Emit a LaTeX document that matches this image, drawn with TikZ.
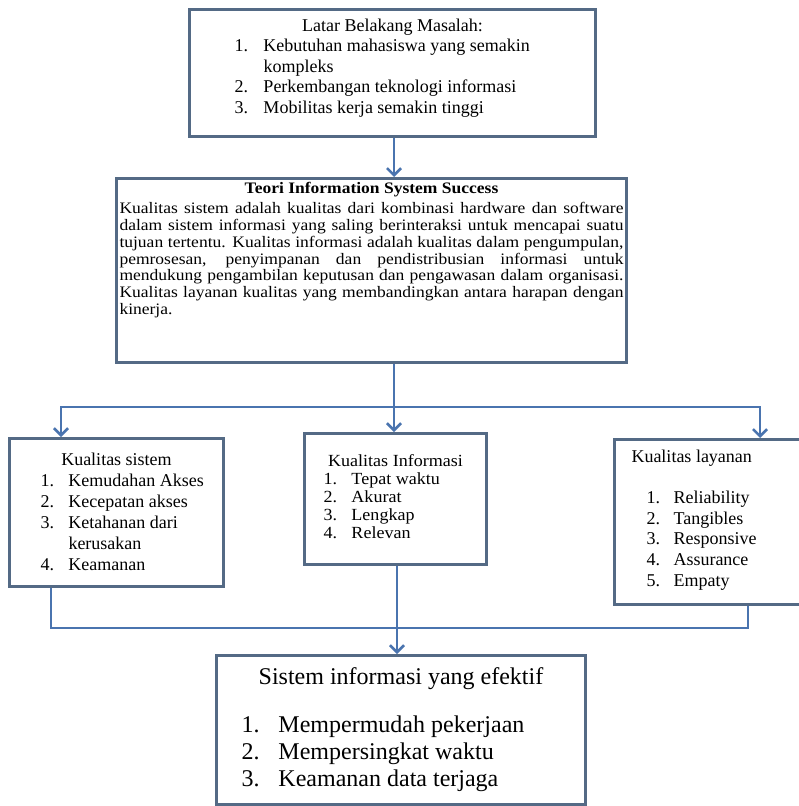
\documentclass[tikz,border=0pt]{standalone}
\usepackage{fontspec}
\setmainfont{Liberation Serif}
\newfontfamily\widetext[FakeStretch=1.094]{Liberation Serif}
\newfontfamily\widerow[FakeStretch=1.06]{Liberation Serif}
\usetikzlibrary{arrows.meta}
\definecolor{boxedge}{RGB}{84,106,133}
\definecolor{linkblue}{RGB}{74,116,175}
\lineskiplimit=-100pt
\setlength{\tabcolsep}{0pt}
\tikzset{
  panel/.style={draw=boxedge,line width=3pt,fill=white,inner sep=0pt,anchor=north west},
  link/.style={draw=linkblue,line width=2.6pt},
  arrowhd/.style={-{Straight Barb[length=7pt,width=14pt]}}
}

\begin{document}
\begin{tikzpicture}[x=1pt,y=-1pt]
  \useasboundingbox[fill=white] (0,0) rectangle (799,806);

  \node[panel] (latar) at (188,8) {\parbox[t][127pt][t]{406pt}{\fontsize{18}{20.5}\selectfont
      \vspace*{7.6pt}
      {\centering\strut Latar Belakang Masalah:\par}
      \hspace*{45pt}\begin{tabular}[t]{@{}p{29pt}l}
        1. & Kebutuhan mahasiswa yang semakin\\
           & kompleks\\
        2. & Perkembangan teknologi informasi\\
        3. & Mobilitas kerja semakin tinggi
      \end{tabular}}};

  \node[panel] (teori) at (115,177) {\parbox[t][184pt][t]{510pt}{\widetext\fontsize{16}{16.7}\selectfont
      \vspace*{3.8pt}
      {\centering\bfseries\strut Teori Information System Success\par}
      \vspace{3.3pt}
      \leftskip=3pt \rightskip=3pt \tolerance=10000 \hyphenpenalty=10000
      Kualitas sistem adalah kualitas dari kombinasi hardware dan software\linebreak
      dalam sistem informasi yang saling berinteraksi untuk mencapai suatu\linebreak
      tujuan tertentu. Kualitas informasi adalah kualitas dalam pengumpulan,\linebreak
      pemrosesan, penyimpanan dan pendistribusian informasi untuk\linebreak
      mendukung pengambilan keputusan dan pengawasan dalam organisasi.\linebreak
      Kualitas layanan kualitas yang membandingkan antara harapan dengan\linebreak
      kinerja.}};

  \node[panel] (sistem) at (8,437) {\parbox[t][148pt][t]{214pt}{\fontsize{18}{21}\selectfont
      \vspace*{12.3pt}
      {\centering\strut Kualitas sistem\par}
      \hspace*{31pt}\begin{tabular}[t]{@{}p{28pt}l}
        1. & Kemudahan Akses\\
        2. & Kecepatan akses\\
        3. & Ketahanan dari\\
           & kerusakan\\
        4. & Keamanan
      \end{tabular}}};

  \node[panel] (informasi) at (303,432) {\parbox[t][131pt][t]{182pt}{\widerow\fontsize{17}{18}\selectfont
      \vspace*{20.4pt}
      {\centering\strut Kualitas Informasi\par}
      \hspace*{19pt}\begin{tabular}[t]{@{}p{28pt}l}
        1. & Tepat waktu\\
        2. & Akurat\\
        3. & Lengkap\\
        4. & Relevan
      \end{tabular}}};

  \node[panel] (layanan) at (613,438) {\parbox[t][165pt][t]{190pt}{\fontsize{18}{20.7}\selectfont
      \vspace*{8.5pt}
      \hspace*{17pt}\strut Kualitas layanan\par
      \vspace{20.3pt}
      \hspace*{32pt}\begin{tabular}[t]{@{}p{27pt}l}
        1. & Reliability\\
        2. & Tangibles\\
        3. & Responsive\\
        4. & Assurance\\
        5. & Empaty
      \end{tabular}}};

  \node[panel] (efektif) at (215,654) {\parbox[t][149pt][t]{369pt}{\fontsize{24}{27}\selectfont
      \vspace*{9.6pt}
      {\centering\strut Sistem informasi yang efektif\par}
      \vspace{21.5pt}
      \hspace*{25pt}\begin{tabular}[t]{@{}p{37pt}l}
        1. & Mempermudah pekerjaan\\
        2. & Mempersingkat waktu\\
        3. & Keamanan data terjaga
      \end{tabular}}};

  \coordinate (split) at (394,407);
  \coordinate (splitL) at (61,407);
  \coordinate (splitR) at (760,407);
  \coordinate (joinL) at (51,628);
  \coordinate (joinR) at (748,628);
  \coordinate (merge) at (397,628);

  \draw[link,arrowhd] (latar.south -| split) -- (teori.north -| split);
  \draw[link] (teori.south -| split) -- (split);
  \draw[link,arrowhd] (split) -| (sistem.north -| splitL);
  \draw[link,arrowhd] (split) -| (layanan.north -| splitR);
  \draw[link,arrowhd] (split) -- (informasi.north -| split);
  \draw[link] (sistem.south -| joinL) -- (joinL) -- (joinR) -- (layanan.south -| joinR);
  \draw[link,arrowhd] (informasi.south -| merge) -- (efektif.north -| merge);
\end{tikzpicture}
\end{document}
